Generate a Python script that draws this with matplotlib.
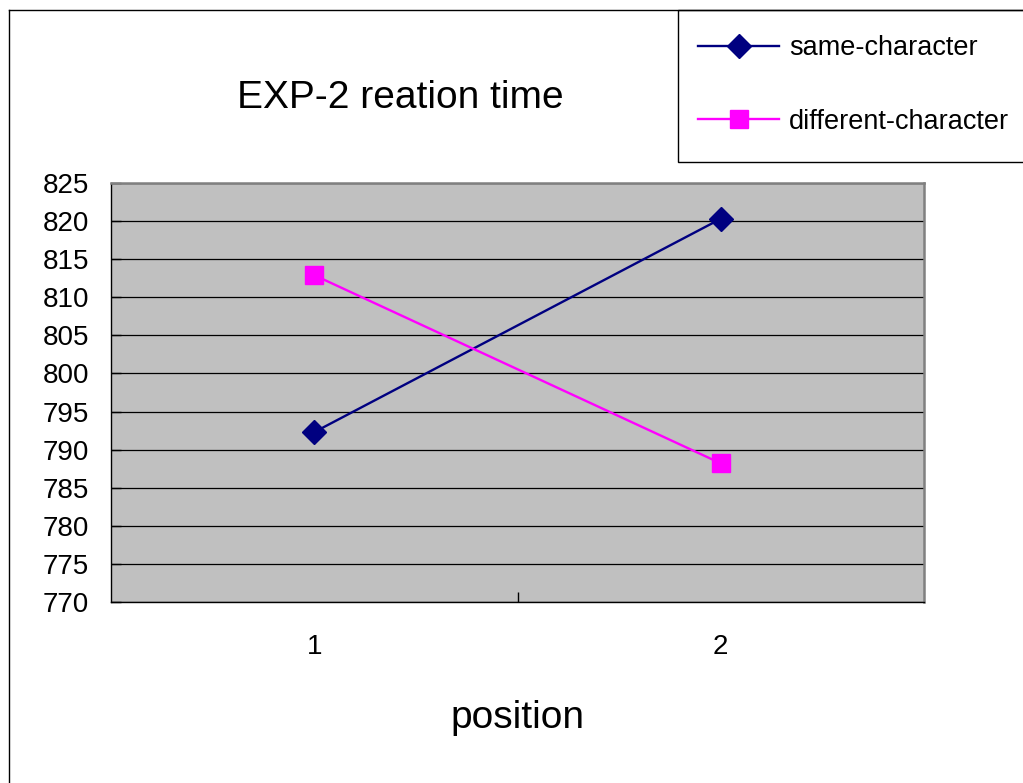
import matplotlib
matplotlib.use("Agg")
import matplotlib.pyplot as plt
from matplotlib.lines import Line2D
from matplotlib.patches import Rectangle
from matplotlib.ticker import FixedLocator

# ---------------------------------------------------------------------------
# Data
# ---------------------------------------------------------------------------
positions = [1, 2]
position_labels = ["1", "2"]
same_character = [792.3, 820.3]
different_character = [812.9, 788.2]
y_ticks = [770, 775, 780, 785, 790, 795, 800, 805, 810, 815, 820, 825]

plt.rcParams["font.family"] = ["Liberation Sans", "DejaVu Sans"]

W, H = 1023, 783
fig = plt.figure(figsize=(W / 100, H / 100), dpi=100)
fig.patch.set_facecolor("white")


def fx(px):
    return px / W


def fy(py):
    return 1 - py / H


# outer chart border (only left and top visible)
fig.add_artist(Line2D([fx(9), fx(9)], [fy(10), 0], transform=fig.transFigure,
                      color="black", lw=1))
fig.add_artist(Line2D([fx(9), 1], [fy(10), fy(10)], transform=fig.transFigure,
                      color="black", lw=1))

# legend box (drawn underneath the legend)
fig.add_artist(Rectangle((fx(678), fy(162)), 1 - fx(678) + 0.01, fy(10) - fy(162),
                         transform=fig.transFigure, facecolor="white",
                         edgecolor="black", lw=1, zorder=-1))

# plot area
ax = fig.add_axes([fx(111), fy(602), fx(924) - fx(111), fy(183) - fy(602)])
ax.set_facecolor("#C0C0C0")
ax.set_xlim(0.5, 2.5)
ax.set_ylim(770, 825)

ax.set_yticks(y_ticks)
ax.set_yticklabels([str(t) for t in y_ticks])
ax.yaxis.grid(True, color="black", lw=0.9)
ax.set_axisbelow(True)

ax.set_xticks(positions)
ax.set_xticklabels(position_labels)
ax.xaxis.set_minor_locator(FixedLocator([1.5]))

ax.tick_params(axis="y", direction="in", length=7, width=1, labelsize=20, pad=16)
ax.tick_params(axis="x", which="major", length=0, labelsize=20, pad=23)
ax.tick_params(axis="x", which="minor", direction="in", length=7, width=1)

for side in ["left", "bottom"]:
    ax.spines[side].set_color("black")
    ax.spines[side].set_linewidth(1)
for side in ["top", "right"]:
    ax.spines[side].set_color("#808080")
    ax.spines[side].set_linewidth(1.8)

ax.plot(positions, same_character, color="#000080", lw=1.7, marker="D",
        markersize=12, markerfacecolor="#000080", markeredgecolor="#000080",
        label="same-character", zorder=3)
ax.plot(positions, different_character, color="#FF00FF", lw=1.7, marker="s",
        markersize=12.5, markerfacecolor="#FF00FF", markeredgecolor="#FF00FF",
        label="different-character", zorder=3)

# titles
fig.text(fx(400), fy(98), "EXP-2 reation time", fontsize=28,
         ha="center", va="center")
fig.text(fx(517), fy(718), "position", fontsize=28, ha="center", va="center")

ax.legend(loc="center left", bbox_to_anchor=(fx(698), fy(85)),
          bbox_transform=fig.transFigure, frameon=False, fontsize=19.5,
          handlelength=3.0, handletextpad=0.35, labelspacing=1.75,
          borderpad=0, borderaxespad=0)

fig.savefig("out.png", dpi=100)
